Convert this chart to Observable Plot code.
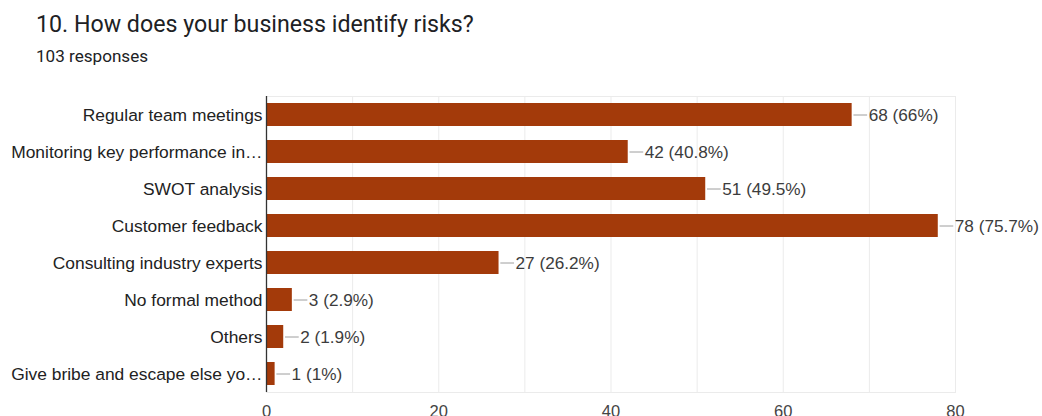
<!DOCTYPE html>
<html><head><meta charset="utf-8">
<script src="https://cdn.jsdelivr.net/npm/d3@7"></script>
<script src="https://cdn.jsdelivr.net/npm/@observablehq/plot@0.6"></script>
<style>
body{margin:0;background:#fff;font-family:Roboto,sans-serif;}
#wrap{position:relative;width:1042px;height:416px;overflow:hidden;}
#title{position:absolute;left:36px;top:13px;font-size:23.2px;line-height:23.2px;color:#202124;white-space:nowrap;}
#sub{position:absolute;left:36px;top:47.5px;font-size:17.1px;line-height:17.1px;color:#202124;white-space:nowrap;}
#chart{position:absolute;left:0;top:70px;}
</style></head><body>
<div id="wrap">
<div id="title">10. How does your business identify risks?</div>
<div id="sub">103 responses</div>
<div id="chart"></div>
</div>
<script>
const categories = [
  "Regular team meetings",
  "Monitoring key performance in…",
  "SWOT analysis",
  "Customer feedback",
  "Consulting industry experts",
  "No formal method",
  "Others",
  "Give bribe and escape else yo…"
];
const counts = [68, 42, 51, 78, 27, 3, 2, 1];
const percents = ["66%", "40.8%", "49.5%", "75.7%", "26.2%", "2.9%", "1.9%", "1%"];
const xTicks = [0, 20, 40, 60, 80];
const gridValues = [10, 20, 30, 40, 50, 60, 70, 80];

const data = categories.map((c, i) => ({cat: c, count: counts[i], label: `${counts[i]} (${percents[i]})`}));

const W = 1042, H = 346, ML = 266, MR = 87;
const pxPerUnit = (W - ML - MR) / 80;
const lead = 15 / pxPerUnit;
const FONT = "'Liberation Sans', Arial, sans-serif";

const chart = Plot.plot({
  width: W, height: H,
  marginLeft: ML, marginRight: MR, marginTop: 26, marginBottom: 24,
  style: {fontFamily: FONT, background: "#fff", overflow: "visible"},
  x: {domain: [0, 80], ticks: xTicks},
  y: {domain: categories, paddingInner: 0.38, paddingOuter: 0.19},
  marks: [
    Plot.gridX(gridValues, {stroke: "#ebebeb", strokeOpacity: 1}),
    Plot.frame({stroke: "#ebebeb"}),
    Plot.barX(data, {x: "count", y: "cat", fill: "#a33a0a"}),
    Plot.ruleX([0], {stroke: "#333", strokeWidth: 1.3}),
    Plot.link(data, {x1: d => d.count + 0.15, x2: d => d.count + lead, y1: "cat", y2: "cat", stroke: "#9e9e9e", strokeWidth: 1}),
    Plot.text(data, {x: "count", y: "cat", text: "label", dx: 16.5, textAnchor: "start", fill: "#3c3c3c", fontSize: 17.2}),
    Plot.axisX({ticks: xTicks, tickSize: 0, tickPadding: 13, fontSize: 16.5, color: "#444", label: null}),
    Plot.axisY({tickSize: 0, tickPadding: 4, fontSize: 17.4, color: "#222", label: null})
  ]
});
document.getElementById("chart").appendChild(chart);
</script>
</body></html>
